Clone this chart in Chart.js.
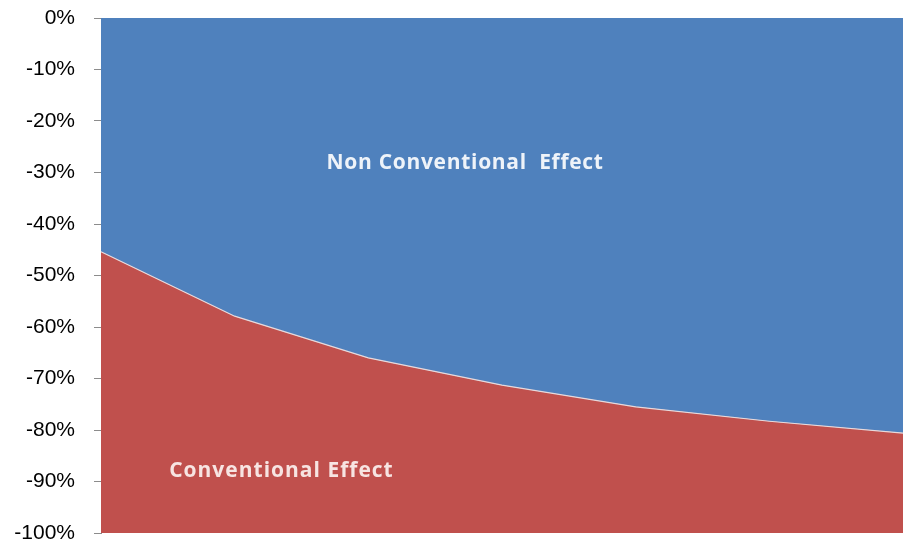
<!DOCTYPE html>
<html>
<head>
<meta charset="utf-8">
<script src="https://cdn.jsdelivr.net/npm/chart.js@4/dist/chart.umd.min.js"></script>
<style>
  html, body { margin: 0; padding: 0; background: #ffffff; }
  #wrap { width: 903px; height: 545px; position: relative; }
</style>
</head>
<body>
<div id="wrap"><canvas id="chart"></canvas></div>
<script>
// Periods along the horizontal axis (unlabelled)
const periods = ['1', '2', '3', '4', '5', '6', '7'];
// Share of the total effect (negative %), boundary between the two components
const conventionalEffect = [-45.4, -57.9, -66.0, -71.3, -75.5, -78.3, -80.6];
// Upper edge of the stacked areas
const totalEffect = [0, 0, 0, 0, 0, 0, 0];
// Vertical axis range and step
const yMin = -100, yMax = 0, yStep = 10;

const seriesNames = ['Conventional Effect', 'Non Conventional  Effect'];

const BLUE = '#4f81bd';
const RED = '#c0504d';

// Area names written inside each filled region
const areaLabels = {
  id: 'areaLabels',
  afterDatasetsDraw(chart) {
    const { ctx, chartArea: a } = chart;
    ctx.save();
    ctx.font = '700 21px "Open Sans"';
    ctx.textAlign = 'center';
    ctx.textBaseline = 'middle';
    ctx.letterSpacing = '0.7px';
    ctx.fillStyle = '#eef3f9';
    ctx.fillText(seriesNames[1], a.left + a.width * 0.454, chart.scales.y.getPixelForValue(-28.2));
    ctx.letterSpacing = '1px';
    ctx.fillStyle = '#f7e4e2';
    ctx.fillText(seriesNames[0], a.left + a.width * 0.225, chart.scales.y.getPixelForValue(-88.0));
    ctx.restore();
  }
};

new Chart(document.getElementById('chart'), {
  type: 'line',
  data: {
    labels: periods,
    datasets: [
      {
        label: seriesNames[0],
        data: conventionalEffect,
        fill: 'start',
        backgroundColor: RED,
        borderColor: '#e6d9dc',
        borderWidth: 1.2,
        pointRadius: 0,
        tension: 0
      },
      {
        label: seriesNames[1],
        data: totalEffect,
        fill: '-1',
        backgroundColor: BLUE,
        borderWidth: 0,
        pointRadius: 0,
        tension: 0
      }
    ]
  },
  options: {
    responsive: true,
    maintainAspectRatio: false,
    animation: false,
    layout: { padding: { top: 18, bottom: 12, left: 0, right: 0 } },
    plugins: { legend: { display: false }, tooltip: { enabled: false } },
    scales: {
      x: {
        display: false,
        offset: false
      },
      y: {
        min: yMin,
        max: yMax,
        afterFit(scale) {
          scale.width = 101;
          scale.paddingTop = 0;
          scale.paddingBottom = 0;
        },
        ticks: {
          stepSize: yStep,
          padding: 19,
          color: '#000000',
          font: { family: '"Liberation Sans"', size: 21 },
          callback: v => v + '%'
        },
        grid: {
          drawOnChartArea: false,
          drawTicks: true,
          tickLength: 7,
          color: '#8c8c8c'
        },
        border: { display: true, color: '#8c8c8c', width: 1 }
      }
    }
  },
  plugins: [areaLabels]
});
</script>
</body>
</html>
